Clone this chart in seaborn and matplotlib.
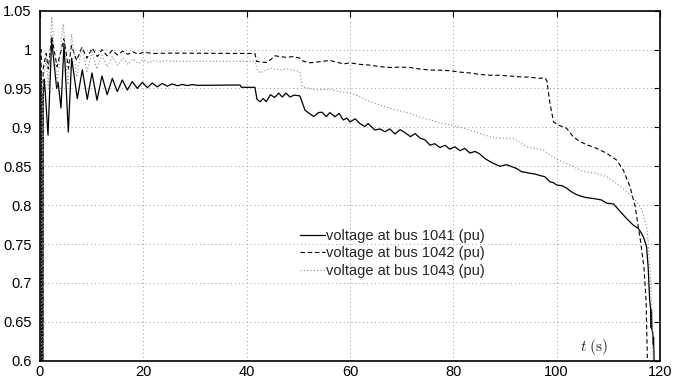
import matplotlib
matplotlib.use("Agg")
import matplotlib.pyplot as plt
import seaborn as sns

# ---- data ----
t_1041 = [0, 0.25, 0.3, 0.55, 0.6, 0.85, 1.55, 2.26, 3.23, 3.5, 4.06, 4.65, 5.48, 6.13,
          7.22, 8.19, 9.15, 10.06, 11.03, 12.0, 13.0, 14.0, 14.96, 15.93, 16.9, 17.86,
          18.83, 19.8, 20.77, 21.73, 22.7, 23.67, 24.64, 25.6, 26.6, 27.5, 28.5, 29.5,
          30.5, 38.7, 39.0, 41.6, 42.0, 42.6, 43.2, 43.8, 44.6, 45.4, 46.2, 46.9, 47.6,
          48.4, 49.2, 50.3, 50.7, 51.3, 52.1, 53.0, 53.9, 54.6, 55.4, 56.1, 57.1, 57.9,
          58.7, 59.4, 60.0, 61.0, 61.9, 62.9, 63.5, 64.8, 65.8, 66.8, 67.7, 68.7, 69.7,
          70.7, 71.7, 72.6, 73.6, 74.5, 75.5, 76.4, 77.4, 78.4, 79.3, 80.3, 81.3, 82.2,
          83.2, 84.2, 85.1, 86.1, 87.1, 88.0, 89.0, 90.3, 91.5, 92.3, 93.2, 94.1, 94.8,
          95.8, 96.8, 97.7, 98.7, 99.3, 100.0, 101.0, 101.9, 102.9, 103.7, 104.5, 105.5,
          106.5, 107.6, 108.7, 109.7, 110.4, 111.0, 112.0, 113.5, 114.8, 115.8, 116.4,
          116.8, 117.4, 117.7, 118.0, 118.2, 118.3, 118.35, 118.45, 118.6, 118.7, 118.75,
          118.85, 118.9]
v_1041 = [0.972, 0.972, 0.55, 0.55, 0.94, 0.962, 0.89, 1.012, 0.950, 0.958, 0.925, 1.008,
          0.894, 0.989, 0.937, 0.974, 0.936, 0.970, 0.935, 0.966, 0.942, 0.963, 0.946,
          0.961, 0.948, 0.959, 0.950, 0.958, 0.951, 0.957, 0.952, 0.9565, 0.953, 0.9558,
          0.9535, 0.9552, 0.9538, 0.955, 0.954, 0.9545, 0.9515, 0.9515, 0.936, 0.933,
          0.937, 0.933, 0.942, 0.9385, 0.944, 0.939, 0.944, 0.939, 0.9415, 0.9405, 0.933,
          0.922, 0.918, 0.914, 0.919, 0.9195, 0.9137, 0.919, 0.9137, 0.918, 0.9095, 0.912,
          0.907, 0.911, 0.905, 0.901, 0.905, 0.8966, 0.898, 0.8944, 0.898, 0.8915, 0.897,
          0.893, 0.888, 0.892, 0.886, 0.884, 0.877, 0.879, 0.874, 0.877, 0.872, 0.875,
          0.870, 0.873, 0.867, 0.869, 0.866, 0.860, 0.856, 0.853, 0.850, 0.852, 0.849,
          0.847, 0.843, 0.842, 0.841, 0.840, 0.838, 0.8366, 0.830, 0.829, 0.826, 0.825,
          0.822, 0.817, 0.814, 0.812, 0.810, 0.809, 0.808, 0.8066, 0.8024, 0.802, 0.8015,
          0.794, 0.783, 0.7745, 0.770, 0.764, 0.759, 0.7466, 0.721, 0.678, 0.666, 0.642,
          0.665, 0.640, 0.636, 0.620, 0.630, 0.605, 0.59]

t_1042 = [0, 0.25, 0.3, 0.55, 0.6, 1.2, 1.6, 2.26, 3.3, 4.65, 5.5, 6.1, 7.1, 8.1, 9.1,
          10.1, 11.1, 12.0, 13.0, 14.0, 15.0, 16.0, 17.0, 18.0, 19.0, 20.0, 22.0, 25.0,
          41.6, 41.9, 42.6, 43.9, 44.8, 45.5, 46.5, 47.7, 49.0, 50.3, 51.0, 52.3, 53.6,
          54.8, 56.1, 57.4, 58.7, 60.0, 61.9, 63.9, 65.8, 67.7, 69.7, 71.6, 73.5, 75.5,
          77.4, 79.4, 81.3, 83.2, 85.2, 87.1, 89.0, 91.0, 92.9, 94.8, 96.8, 97.7, 98.1,
          98.7, 99.4, 100.3, 101.9, 103.2, 104.5, 106.1, 107.7, 109.7, 111.6, 112.9,
          114.2, 115.2, 115.8, 116.2, 116.9, 117.3, 117.6]
v_1042 = [1.0, 1.0, 0.55, 0.55, 0.975, 0.995, 0.975, 1.017, 0.978, 1.014, 0.976, 1.005,
          0.986, 1.003, 0.989, 1.002, 0.991, 1.0, 0.992, 0.999, 0.993, 0.998, 0.994,
          0.997, 0.994, 0.9965, 0.995, 0.9955, 0.995, 0.985, 0.984, 0.9835, 0.988, 0.992,
          0.991, 0.990, 0.991, 0.989, 0.985, 0.983, 0.984, 0.985, 0.986, 0.984, 0.9815,
          0.983, 0.981, 0.980, 0.978, 0.977, 0.9775, 0.977, 0.975, 0.9737, 0.9735,
          0.9728, 0.971, 0.970, 0.968, 0.967, 0.967, 0.966, 0.965, 0.9645, 0.963, 0.964,
          0.96, 0.931, 0.907, 0.903, 0.899, 0.888, 0.8816, 0.877, 0.873, 0.8667, 0.858,
          0.845, 0.8237, 0.798, 0.772, 0.755, 0.72, 0.678, 0.59]

t_1043 = [0, 0.25, 0.3, 0.55, 0.6, 1.2, 1.6, 2.26, 3.3, 4.5, 5.4, 6.1, 7.1, 8.1, 9.1,
          10.1, 11.0, 12.0, 13.0, 14.0, 15.0, 16.0, 17.0, 18.0, 19.0, 20.0, 21.0, 22.0,
          23.0, 24.0, 26.0, 41.6, 42.0, 42.6, 44.5, 46.5, 48.0, 50.3, 50.8, 53.5, 56.1,
          58.0, 60.0, 61.9, 63.9, 65.8, 67.7, 69.7, 71.6, 73.5, 75.5, 77.4, 79.4, 81.3,
          83.2, 85.2, 87.1, 89.0, 91.6, 94.2, 97.4, 98.7, 100.3, 102.6, 105.2, 107.7,
          109.7, 111.6, 113.6, 115.2, 116.5, 117.4, 117.7, 118.2, 118.7]
v_1043 = [0.985, 0.985, 0.55, 0.55, 0.96, 0.99, 0.95, 1.042, 0.955, 1.033, 0.955, 1.02,
          0.965, 1.003, 0.972, 0.997, 0.975, 0.993, 0.978, 0.991, 0.980, 0.989, 0.981,
          0.988, 0.982, 0.987, 0.983, 0.986, 0.984, 0.9855, 0.985, 0.985, 0.975, 0.970,
          0.976, 0.974, 0.975, 0.9716, 0.952, 0.948, 0.949, 0.946, 0.944, 0.9395, 0.933,
          0.929, 0.9245, 0.921, 0.918, 0.913, 0.9095, 0.906, 0.903, 0.900, 0.8966, 0.892,
          0.888, 0.886, 0.886, 0.875, 0.871, 0.8645, 0.858, 0.8516, 0.843, 0.841, 0.8366,
          0.828, 0.817, 0.8066, 0.794, 0.772, 0.755, 0.70, 0.59]

labels = ["voltage at bus 1041 (pu)", "voltage at bus 1042 (pu)", "voltage at bus 1043 (pu)"]
x_ticks = [0, 20, 40, 60, 80, 100, 120]
y_ticks = [0.6, 0.65, 0.7, 0.75, 0.8, 0.85, 0.9, 0.95, 1.0, 1.05]
y_tick_labels = ["0.6", "0.65", "0.7", "0.75", "0.8", "0.85", "0.9", "0.95", "1", "1.05"]

# ---- styling ----
sns.set_style("white")
plt.rcParams['font.family'] = ['Liberation Sans', 'DejaVu Sans']
plt.rcParams['mathtext.fontset'] = 'cm'

fig = plt.figure(figsize=(6.73, 3.86), dpi=100)
ax = fig.add_axes([40 / 673, 1 - 360.7 / 386, 620 / 673, 350 / 386])

sns.lineplot(x=t_1041, y=v_1041, ax=ax, color='black', lw=0.9,
             estimator=None, sort=False, label=labels[0])
sns.lineplot(x=t_1042, y=v_1042, ax=ax, color='black', lw=0.8,
             estimator=None, sort=False, label=labels[1], dashes=False)
sns.lineplot(x=t_1043, y=v_1043, ax=ax, color='#8c8c8c', lw=0.8,
             estimator=None, sort=False, label=labels[2], dashes=False)
ax.lines[1].set_linestyle((0, (4, 2.5)))
ax.lines[2].set_linestyle((0, (1, 2)))

ax.set_xlim(0, 120)
ax.set_ylim(0.6, 1.05)
ax.set_xticks(x_ticks)
ax.set_xticklabels([str(v) for v in x_ticks])
ax.set_yticks(y_ticks)
ax.set_yticklabels(y_tick_labels)
ax.set_xlabel("")
ax.set_ylabel("")
ax.grid(True, linestyle=(0, (1, 3)), color='#9a9a9a', lw=0.7)
ax.set_axisbelow(True)
ax.tick_params(direction='in', top=True, right=True, length=4, width=0.8,
               labelsize=10.5, colors='black')
ax.tick_params(axis='y', pad=6)
ax.tick_params(axis='x', pad=3)
for s in ax.spines.values():
    s.set_visible(True)
    s.set_linewidth(1.2)
    s.set_color('black')

leg = ax.legend(loc='center', bbox_to_anchor=(0.5685, 0.307), frameon=False,
                fontsize=10.5, handlelength=1.7, handletextpad=0.1,
                labelspacing=0.25, borderpad=0, borderaxespad=0)
for line, ls in zip(leg.get_lines(), ['-', (0, (4, 2.5)), (0, (1, 2))]):
    line.set_linestyle(ls)

ax.text(0.8935, 0.039, r'$t\ \mathrm{(s)}$', transform=ax.transAxes,
        ha='center', va='center', fontsize=11)

fig.savefig('out.png', dpi=100)
